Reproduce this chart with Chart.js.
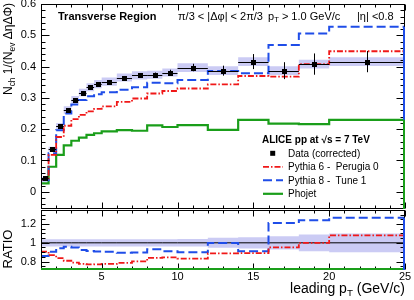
<!DOCTYPE html>
<html>
<head>
<meta charset="utf-8">
<script src="https://cdn.jsdelivr.net/npm/chart.js@4.4.1/dist/chart.umd.min.js"></script>
<style>
  html, body { margin: 0; padding: 0; background: #fff; }
  #wrap { position: relative; width: 414px; height: 300px; overflow: hidden;
          font-family: "Liberation Sans", Arial, sans-serif; color: #000; }
  .box { position: absolute; left: 0; width: 414px; }
  .t { position: absolute; white-space: nowrap; line-height: 1; }
  sub { font-size: 70%; vertical-align: -0.3em; line-height: 0; }
</style>
</head>
<body>
<div id="wrap">
  <div class="box" style="top:0;height:212px"><canvas id="mainChart"></canvas></div>
  <div class="box" style="top:204px;height:96px"><canvas id="ratioChart"></canvas></div>

  <div class="t" style="left:2px;top:3px;font-size:12px;transform-origin:0 0;transform:rotate(-90deg) translateX(-100%)">N<sub>ch</sub> 1/(N<sub>ev</sub> ΔηΔΦ)</div>
  <div class="t" style="left:1px;top:249px;font-size:13px;transform-origin:0 0;transform:rotate(-90deg) translateX(-50%)">RATIO</div>
  <div class="t" style="right:9px;top:281px;font-size:14px">leading p<sub>T</sub> (GeV/c)</div>

  <div class="t" style="left:58px;top:11.4px;font-size:11px;font-weight:bold">Transverse Region</div>
  <div class="t" style="left:178px;top:11.4px;font-size:11px">π/3 &lt; |Δφ| &lt; 2π/3</div>
  <div class="t" style="left:268px;top:11.4px;font-size:11px">p<sub>T</sub> &gt; 1.0 GeV/c</div>
  <div class="t" style="left:357px;top:11.4px;font-size:11px">|η| &lt;0.8</div>

  <div class="t" style="left:262px;top:135px;font-size:10px;font-weight:bold">ALICE pp at √s = 7 TeV</div>
  <div class="t" style="left:288px;top:148.5px;font-size:10px">Data (corrected)</div>
  <div class="t" style="left:288px;top:162px;font-size:10px">Pythia 6 -&nbsp; Perugia 0</div>
  <div class="t" style="left:288px;top:175.5px;font-size:10px">Pythia 8 -&nbsp; Tune 1</div>
  <div class="t" style="left:288px;top:189px;font-size:10px">Phojet</div>
  <svg class="t" style="left:255px;top:145px" width="40" height="56">
    <rect x="15.2" y="5.8" width="5" height="5" fill="#000"/>
    <line x1="8" y1="21.8" x2="28" y2="21.8" stroke="#f01818" stroke-width="1.8" stroke-dasharray="6 2 1.5 2"/>
    <line x1="8" y1="35.3" x2="28" y2="35.3" stroke="#1f4de8" stroke-width="2" stroke-dasharray="9 4"/>
    <line x1="8" y1="48.8" x2="28" y2="48.8" stroke="#1a9e1a" stroke-width="2.2"/>
  </svg>
</div>

<script>
// bin edges of leading pT (GeV/c)
const binEdges = [1, 1.5, 2, 2.5, 3, 3.5, 4, 4.5, 5, 6, 7, 8, 9, 10, 12, 14, 16, 18, 20, 25];

// data (corrected) with stat and sys errors
const dataValues = [0.043, 0.136, 0.209, 0.261, 0.294, 0.317, 0.334, 0.344, 0.352, 0.365,
                    0.372, 0.374, 0.381, 0.397, 0.387, 0.416, 0.387, 0.408, 0.416];
const dataStat = [0.003, 0.003, 0.003, 0.003, 0.003, 0.003, 0.004, 0.004, 0.004, 0.005,
                  0.006, 0.007, 0.009, 0.012, 0.016, 0.024, 0.027, 0.034, 0.034];
const dataSys = [0.004, 0.008, 0.011, 0.012, 0.012, 0.012, 0.013, 0.013, 0.013, 0.013,
                 0.013, 0.013, 0.013, 0.014, 0.014, 0.014, 0.014, 0.014, 0.014];
// relative band drawn in the ratio pad
const ratioBand = [0.038, 0.038, 0.038, 0.038, 0.038, 0.038, 0.038, 0.038, 0.038, 0.038,
                   0.038, 0.038, 0.038, 0.04, 0.053, 0.06, 0.07, 0.09, 0.1];

// models
const pythia6 = [0.039, 0.118, 0.175, 0.211, 0.232, 0.246, 0.257, 0.265, 0.273, 0.287,
                 0.298, 0.314, 0.322, 0.330, 0.343, 0.370, 0.368, 0.408, 0.449];
const pythia8 = [0.037, 0.123, 0.197, 0.250, 0.279, 0.293, 0.305, 0.312, 0.318, 0.326,
                 0.334, 0.348, 0.347, 0.357, 0.386, 0.379, 0.469, 0.506, 0.527];
const phojet = [0.027, 0.080, 0.118, 0.148, 0.163, 0.173, 0.182, 0.187, 0.193, 0.197,
                0.195, 0.212, 0.207, 0.213, 0.198, 0.230, 0.218, 0.216, 0.230];

// tick labels
const yTicksMain = [0, 0.1, 0.2, 0.3, 0.4, 0.5, 0.6];
const yLabelsMain = ['0', '0.1', '0.2', '0.3', '0.4', '0.5', '0.6'];
const yTicksRatio = [0.8, 1, 1.2];
const yLabelsRatio = ['0.8', '1', '1.2'];
const xTicks = [5, 10, 15, 20, 25];
const xLabels = ['5', '10', '15', '20', '25'];

const RED = '#f01818', BLUE = '#1f4de8', GREEN = '#1a9e1a';
const BAND = 'rgba(140,140,230,0.45)';
const FONT = { family: '"Liberation Sans", Arial, sans-serif', size: 11 };

// histogram outline: one point per left edge + closing point at the last edge
function histPoints(vals) {
    const pts = vals.map((v, i) => ({ x: binEdges[i], y: v }));
    pts.push({ x: binEdges[binEdges.length - 1], y: vals[vals.length - 1] });
    return pts;
}

function stepLine(label, vals, color, dash, width) {
    return {
        label: label,
        data: histPoints(vals),
        borderColor: color,
        borderDash: dash,
        borderWidth: width,
        stepped: true,
        pointRadius: 0,
        fill: false
    };
}

function bandSets(lo, hi) {
    return [
        { data: histPoints(hi), borderWidth: 0, borderColor: 'rgba(0,0,0,0)', stepped: true, pointRadius: 0, fill: false },
        { data: histPoints(lo), borderWidth: 0, borderColor: 'rgba(0,0,0,0)', stepped: true, pointRadius: 0, fill: '-1', backgroundColor: BAND }
    ];
}

// ROOT-like frame with inside ticks on all four sides
function makeFrame(cfg) {
    return {
        id: 'rootFrame',
        afterDraw(chart) {
            const ctx = chart.ctx, a = chart.chartArea;
            const xs = chart.scales.x, ys = chart.scales.y;
            const L = Math.round(a.left) + 0.5, R = Math.round(a.right) - 0.5;
            const T = Math.round(a.top) + 0.5, B = Math.round(a.bottom) - 0.5;

            function seg(x0, y0, x1, y1) {
                ctx.beginPath(); ctx.moveTo(x0, y0); ctx.lineTo(x1, y1); ctx.stroke();
            }
            function eachTick(min, max, minor, major, fn) {
                const k0 = Math.ceil(min / minor - 1e-6), k1 = Math.floor(max / minor + 1e-6);
                for (let k = k0; k <= k1; k++) {
                    const v = k * minor, r = v / major;
                    fn(v, Math.abs(r - Math.round(r)) < 1e-6);
                }
            }

            ctx.save();
            ctx.strokeStyle = '#000';
            ctx.lineWidth = 1;
            ctx.strokeRect(L, T, R - L, B - T);

            eachTick(xs.min, xs.max, cfg.xMinor, cfg.xMajor, (v, major) => {
                const px = Math.round(xs.getPixelForValue(v)) + 0.5;
                const len = major ? cfg.xLen[0] : cfg.xLen[1];
                seg(px, B, px, B - len);
                seg(px, T, px, T + len);
            });
            eachTick(ys.min, ys.max, cfg.yMinor, cfg.yMajor, (v, major) => {
                const py = Math.round(ys.getPixelForValue(v)) + 0.5;
                const len = major ? cfg.yLen[0] : cfg.yLen[1];
                seg(L, py, L + len, py);
                seg(R, py, R - len, py);
            });

            if (cfg.bottomColor) {
                ctx.strokeStyle = cfg.bottomColor;
                ctx.lineWidth = 2;
                seg(a.left, a.bottom - 1, a.right, a.bottom - 1);
            }
            // histogram closing edges at the right border
            cfg.edges.forEach(e => {
                const y = Math.max(a.top, Math.min(a.bottom, ys.getPixelForValue(e.value)));
                ctx.strokeStyle = e.color;
                ctx.lineWidth = 2;
                seg(a.right - 1, y, a.right - 1, a.bottom);
            });
            ctx.restore();
        }
    };
}

// data points: bin-wide horizontal bar, stat error bar, square marker
const dataMarkers = {
    id: 'dataMarkers',
    afterDatasetsDraw(chart) {
        const ctx = chart.ctx, xs = chart.scales.x, ys = chart.scales.y;
        ctx.save();
        ctx.strokeStyle = '#000';
        ctx.fillStyle = '#000';
        ctx.lineWidth = 1;
        dataValues.forEach((v, i) => {
            const x0 = xs.getPixelForValue(binEdges[i]);
            const x1 = xs.getPixelForValue(binEdges[i + 1]);
            const xc = Math.round((x0 + x1) / 2) + 0.5;
            const y = Math.round(ys.getPixelForValue(v)) + 0.5;
            ctx.beginPath(); ctx.moveTo(x0, y); ctx.lineTo(x1, y); ctx.stroke();
            ctx.beginPath();
            ctx.moveTo(xc, ys.getPixelForValue(v + dataStat[i]));
            ctx.lineTo(xc, ys.getPixelForValue(v - dataStat[i]));
            ctx.stroke();
            ctx.fillRect(xc - 2.5, y - 2.5, 5, 5);
        });
        ctx.restore();
    }
};

function yScale(min, max, ticks, labels) {
    return {
        type: 'linear', min: min, max: max,
        grid: { display: false, drawTicks: false, tickLength: 0 },
        border: { display: false },
        afterBuildTicks: s => { s.ticks = ticks.map(v => ({ value: v })); },
        afterFit: s => { s.width = 41; s.paddingTop = 0; s.paddingBottom = 0; },
        ticks: { autoSkip: false, padding: 5, color: '#000', font: FONT,
                 callback: (v, i) => labels[i] }
    };
}

document.addEventListener('DOMContentLoaded', function() {
    const mainSets = [
        stepLine('Pythia 6 -  Perugia 0', pythia6, RED, [6, 2, 1.5, 2], 1.8),
        stepLine('Pythia 8 -  Tune 1', pythia8, BLUE, [9, 4], 2),
        stepLine('Phojet', phojet, GREEN, [], 2.2)
    ].concat(bandSets(dataValues.map((v, i) => v - dataSys[i]),
                      dataValues.map((v, i) => v + dataSys[i])));

    new Chart(document.getElementById('mainChart'), {
        type: 'line',
        data: { datasets: mainSets },
        options: {
            responsive: true, maintainAspectRatio: false, animation: false,
            devicePixelRatio: 1,
            layout: { padding: { left: 0, right: 9, top: 4, bottom: 3 } },
            plugins: { legend: { display: false }, tooltip: { enabled: false } },
            scales: {
                x: { type: 'linear', min: 1, max: 25, display: false },
                y: yScale(-0.055, 0.6, yTicksMain, yLabelsMain)
            }
        },
        plugins: [dataMarkers, makeFrame({
            xMajor: 5, xMinor: 1, xLen: [6, 3],
            yMajor: 0.1, yMinor: 0.02, yLen: [8, 4],
            edges: [
                { value: pythia6[pythia6.length - 1], color: RED },
                { value: pythia8[pythia8.length - 1], color: BLUE },
                { value: phojet[phojet.length - 1], color: GREEN }
            ]
        })]
    });

    const r6 = pythia6.map((v, i) => v / dataValues[i]);
    const r8 = pythia8.map((v, i) => v / dataValues[i]);
    const unity = dataValues.map(v => v / v);
    const ratioSets = [
        stepLine('Pythia 6 -  Perugia 0', r6, RED, [6, 2, 1.5, 2], 1.8),
        stepLine('Pythia 8 -  Tune 1', r8, BLUE, [9, 4], 2),
        stepLine('Data', unity, '#000', [], 1)
    ].concat(bandSets(ratioBand.map(e => 1 - e), ratioBand.map(e => 1 + e)));

    new Chart(document.getElementById('ratioChart'), {
        type: 'line',
        data: { datasets: ratioSets },
        options: {
            responsive: true, maintainAspectRatio: false, animation: false,
            devicePixelRatio: 1,
            layout: { padding: { left: 0, right: 9, top: 6, bottom: 12 } },
            plugins: { legend: { display: false }, tooltip: { enabled: false } },
            scales: {
                x: {
                    type: 'linear', position: 'bottom', min: 1, max: 25,
                    grid: { display: false, drawTicks: false, tickLength: 0 },
                    border: { display: false },
                    afterBuildTicks: s => { s.ticks = xTicks.map(v => ({ value: v })); },
                    afterFit: s => { s.height = 18; s.paddingLeft = 0; s.paddingRight = 0; },
                    ticks: { autoSkip: false, maxRotation: 0, padding: 0, color: '#000', font: FONT,
                             callback: (v, i) => xLabels[i] }
                },
                y: yScale(0.71, 1.35, yTicksRatio, yLabelsRatio)
            }
        },
        plugins: [makeFrame({
            xMajor: 5, xMinor: 1, xLen: [6, 3],
            yMajor: 0.2, yMinor: 0.05, yLen: [8, 4],
            bottomColor: GREEN,
            edges: [
                { value: r6[r6.length - 1], color: RED },
                { value: r8[r8.length - 1], color: BLUE }
            ]
        })]
    });
});
</script>
</body>
</html>
